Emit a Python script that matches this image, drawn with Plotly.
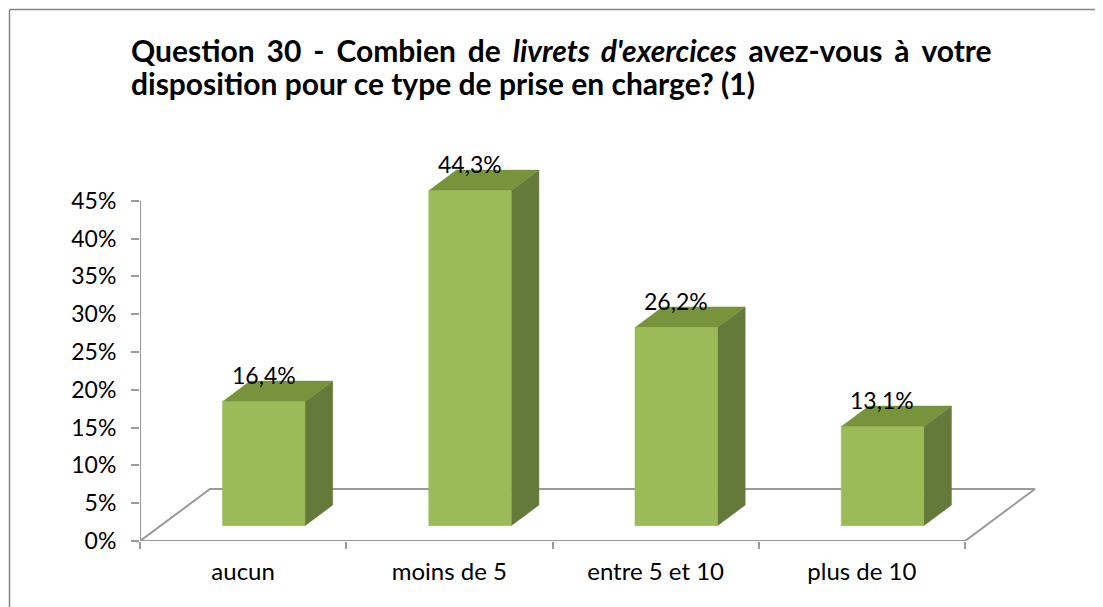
import plotly.graph_objects as go

# ---- data ----
categories = ["aucun", "moins de 5", "entre 5 et 10", "plus de 10"]
values = [16.4, 44.3, 26.2, 13.1]
ytick_vals = [0, 5, 10, 15, 20, 25, 30, 35, 40, 45]
ytick_text = [f"{v}%" for v in ytick_vals]
title_line1 = ["Question", "30", "-", "Combien", "de", "<i>livrets", "d'exercices</i>",
               "avez-vous", "à", "votre"]
title_line2 = "disposition pour ce type de prise en charge? (1)"

# ---- geometry (pixels, page coordinates; page body has an 8px margin) ----
OFF = 8
W, H = 1103 - OFF, 607 - OFF
L, R_EDGE, T, B_EDGE = 140 - OFF, 1063 - OFF, 130 - OFF, 541 - OFF
PW, PH = R_EDGE - L, B_EDGE - T
CAT_PX = 206.25          # px per category
PCT_PX = 340.3 / 45      # px per percent
DX = 70 / CAT_PX         # floor depth offset (x units)
DY = 52 / PCT_PX         # floor depth offset (y units)
F1, F2 = 0.294, 0.69     # bar front/back depth fractions
BW = 0.40                # bar width (category units)

FRONT = "#9BBB59"
TOP = "#77933C"
SIDE = "#647A3A"
GRID = "#9A9A9A"
FONT = "Lato"


def xp(px):
    return (px - OFF - L) / PW


def yp(py):
    return (B_EDGE - (py - OFF)) / PH


def poly(xs, ys, color):
    return go.Scatter(
        x=xs + [xs[0]], y=ys + [ys[0]], mode="lines", fill="toself",
        fillcolor=color, line=dict(color=color, width=0.5),
        hoverinfo="skip", showlegend=False)


n = len(categories)
fig = go.Figure()

# floor outline (drawn behind bars)
fig.add_trace(go.Scatter(
    x=[0, DX, n + DX, n], y=[0, DY, DY, 0], mode="lines",
    line=dict(color=GRID, width=2), hoverinfo="skip", showlegend=False))
fig.add_trace(go.Scatter(
    x=[0, n], y=[0, 0], mode="lines",
    line=dict(color=GRID, width=2), hoverinfo="skip", showlegend=False))
# y axis line
fig.add_trace(go.Scatter(
    x=[0, 0], y=[0, max(ytick_vals)], mode="lines",
    line=dict(color=GRID, width=2), hoverinfo="skip", showlegend=False))

# pseudo-3D columns
for i, v in enumerate(values):
    c = i + 0.5
    xl1 = c - BW / 2 + F1 * DX
    xr1 = c + BW / 2 + F1 * DX
    xl2 = c - BW / 2 + F2 * DX
    xr2 = c + BW / 2 + F2 * DX
    b1, b2 = F1 * DY, F2 * DY
    fig.add_trace(poly([xr1, xr2, xr2, xr1], [b1, b2, b2 + v, b1 + v], SIDE))
    fig.add_trace(poly([xl1, xr1, xr2, xl2], [b1 + v, b1 + v, b2 + v, b2 + v], TOP))
    fig.add_trace(poly([xl1, xr1, xr1, xl1], [b1, b1, b1 + v, b1 + v], FRONT))

annotations = []
for i, v in enumerate(values):
    annotations.append(dict(
        x=i + 0.5 + F1 * DX, y=F1 * DY + v, xref="x", yref="y",
        text=f"{v:.1f}".replace(".", ",") + "%", showarrow=False,
        yshift=27, font=dict(family=FONT, size=23, color="#000000")))

# justified first title line: even, widened gaps between words
gap = '<span style="font-size:24.5px">\u00a0\u00a0</span>'
line1 = gap.join(title_line1)
annotations.append(dict(
    x=xp(129), y=yp(50), xref="paper", yref="paper", xanchor="left", yanchor="middle",
    text="<b>" + line1 + "</b>", showarrow=False,
    font=dict(family=FONT, size=30, color="#000000")))
annotations.append(dict(
    x=xp(129), y=yp(83), xref="paper", yref="paper", xanchor="left", yanchor="middle",
    text="<b>" + title_line2 + "</b>", showarrow=False,
    font=dict(family=FONT, size=30, color="#000000")))

shapes = [
    dict(type="line", xref="paper", yref="paper", x0=xp(9.5), x1=xp(1110),
         y0=yp(9.5), y1=yp(9.5), line=dict(color="#868686", width=1.5)),
    dict(type="line", xref="paper", yref="paper", x0=xp(9.5), x1=xp(9.5),
         y0=yp(9.5), y1=yp(615), line=dict(color="#868686", width=1.5)),
]

fig.update_layout(
    width=W, height=H,
    margin=dict(l=L, r=W - R_EDGE, t=T, b=H - B_EDGE),
    paper_bgcolor="white", plot_bgcolor="white",
    annotations=annotations, shapes=shapes,
    xaxis=dict(range=[0, PW / CAT_PX], showgrid=False, zeroline=False, showline=False,
               tickvals=[i + 0.5 for i in range(n)], ticktext=categories,
               ticks="", ticklabelstandoff=14,
               tickfont=dict(family=FONT, size=24, color="#000000"),
               minor=dict(tickvals=list(range(n + 1)), ticks="outside", ticklen=7,
                          tickcolor=GRID, tickwidth=2, showgrid=False),
               fixedrange=True),
    yaxis=dict(range=[0, PH / PCT_PX], showgrid=False, zeroline=False, showline=False,
               tickvals=ytick_vals, ticktext=ytick_text, ticks="outside", ticklen=8,
               tickcolor=GRID, tickwidth=2, ticklabelstandoff=10,
               tickfont=dict(family=FONT, size=23, color="#000000"), fixedrange=True),
)

fig.write_html("out.html")
